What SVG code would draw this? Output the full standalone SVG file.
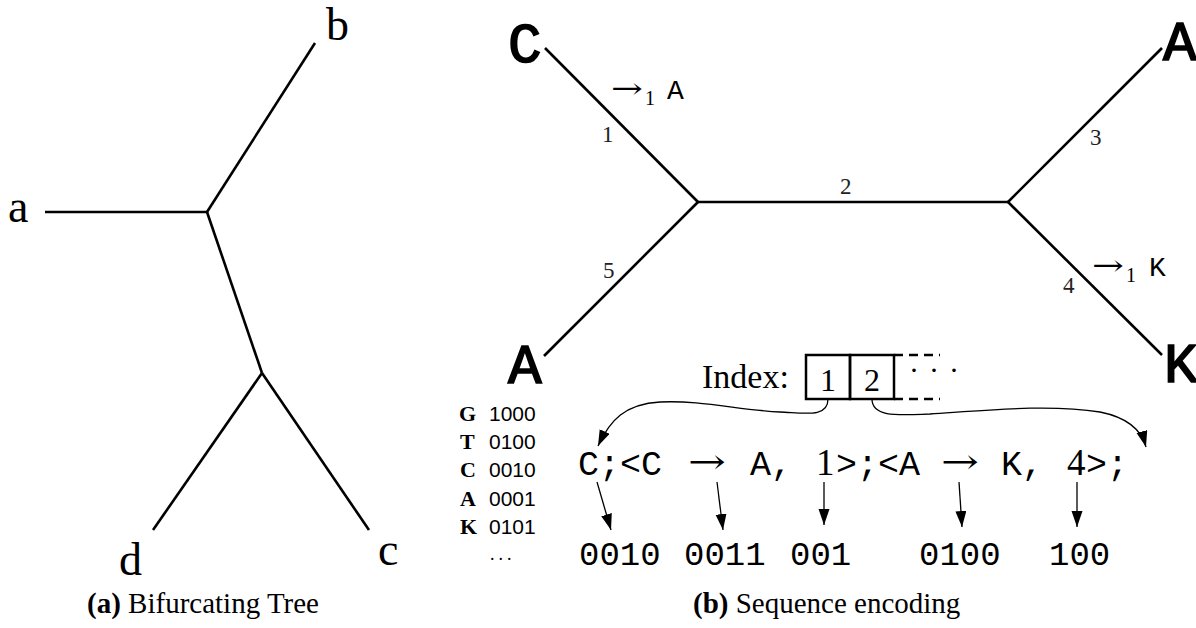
<svg xmlns="http://www.w3.org/2000/svg" width="1196" height="628" viewBox="0 0 1196 628">
<style>
.edge{stroke:#000;stroke-width:2.6;fill:none;stroke-linecap:butt}
.thin{stroke:#000;stroke-width:1.3;fill:none}
.leaf{font-family:"Liberation Serif","DejaVu Serif",serif;font-size:46px;fill:#000}
.big{font-family:"Liberation Mono","DejaVu Sans Mono",monospace;font-size:56px;fill:#000;stroke:#000;stroke-width:1.6}
.el{font-family:"Liberation Serif","DejaVu Serif",serif;font-size:23px;fill:#222}
.mono{font-family:"Liberation Mono","DejaVu Sans Mono",monospace;fill:#000}
.serif{font-family:"Liberation Serif","DejaVu Serif",serif;fill:#000}
.arr{font-family:"DejaVu Serif","DejaVu Sans",serif;fill:#000}
.cap{font-family:"Liberation Serif","DejaVu Serif",serif;font-size:29px;fill:#000}
.leg{font-family:"Liberation Sans","DejaVu Sans",sans-serif;font-size:21px;fill:#000}
.legb{font-family:"Liberation Serif","DejaVu Serif",serif;font-size:22px;font-weight:bold;fill:#000}
</style>
<defs>
<marker id="ah" markerUnits="userSpaceOnUse" markerWidth="18" markerHeight="12" refX="16" refY="5.5" orient="auto">
<path d="M0,0 L16,5.5 L0,11 z" fill="#000"/>
</marker>
</defs>

<!-- (a) Bifurcating tree -->
<g id="tree-a">
<g id="a-edges">
<line class="edge" x1="45" y1="212" x2="207" y2="212"/>
<line class="edge" x1="207" y1="212" x2="315" y2="43"/>
<line class="edge" x1="207" y1="212" x2="262" y2="373"/>
<line class="edge" x1="262" y1="373" x2="153" y2="530"/>
<line class="edge" x1="262" y1="373" x2="369" y2="530"/>
</g>
<g id="leaf-a"><text class="leaf" x="8" y="222">a</text></g>
<g id="leaf-b"><text class="leaf" x="326" y="40">b</text></g>
<g id="leaf-d"><text class="leaf" x="119" y="575">d</text></g>
<g id="leaf-c"><text class="leaf" x="378" y="565">c</text></g>
<text class="cap" x="87" y="613"><tspan font-weight="bold">(a)</tspan> Bifurcating Tree</text>
</g>

<!-- (b) Sequence encoding tree -->
<g id="tree-b">
<g id="b-edges">
<line class="edge" x1="545" y1="48" x2="698" y2="202"/>
<line class="edge" x1="544" y1="356" x2="698" y2="202"/>
<line class="edge" x1="698" y1="202" x2="1008" y2="202"/>
<line class="edge" x1="1008" y1="202" x2="1162" y2="48"/>
<line class="edge" x1="1008" y1="202" x2="1162" y2="355"/>
</g>
<g id="node-C"><text class="big" x="508" y="62">C</text></g>
<g id="node-A-bl"><text class="big" x="508" y="383">A</text></g>
<g id="node-A-tr"><text class="big" x="1163" y="60">A</text></g>
<g id="node-K"><text class="big" x="1164" y="382">K</text></g>
<g id="edge-labels">
<text class="el" x="602" y="142">1</text>
<text class="el" x="840" y="194">2</text>
<text class="el" x="1090" y="145">3</text>
<text class="el" x="1063" y="293">4</text>
<text class="el" x="603" y="278">5</text>
</g>
<g id="mut1">
<text class="arr" x="611" y="98" font-size="28" textLength="32" lengthAdjust="spacingAndGlyphs">→</text>
<text class="serif" x="645" y="105" font-size="20">1</text>
<text class="mono" x="667" y="99" font-size="28">A</text>
</g>
<g id="mut2">
<text class="arr" x="1092" y="275" font-size="28" textLength="32" lengthAdjust="spacingAndGlyphs">→</text>
<text class="serif" x="1126" y="282" font-size="20">1</text>
<text class="mono" x="1149" y="276" font-size="28">K</text>
</g>
</g>

<!-- Index -->
<g id="index">
<text class="serif" x="702" y="388" font-size="34">Index:</text>
<rect x="806" y="355" width="44" height="44" fill="none" stroke="#000" stroke-width="2.5"/>
<rect x="850" y="355" width="44" height="44" fill="none" stroke="#000" stroke-width="2.5"/>
<text class="serif" x="828" y="391" font-size="32" text-anchor="middle">1</text>
<text class="serif" x="872" y="391" font-size="32" text-anchor="middle">2</text>
<line x1="894" y1="355" x2="940" y2="355" stroke="#000" stroke-width="2.5" stroke-dasharray="9,6"/>
<line x1="894" y1="399" x2="940" y2="399" stroke="#000" stroke-width="2.5" stroke-dasharray="9,6"/>
<text class="serif" x="909" y="380" font-size="30" letter-spacing="10">···</text>
</g>

<!-- Legend -->
<g id="legend">
<text x="459" y="421"><tspan class="legb">G</tspan><tspan class="leg" x="489">1000</tspan></text>
<text x="460" y="449"><tspan class="legb">T</tspan><tspan class="leg" x="489">0100</tspan></text>
<text x="460" y="477"><tspan class="legb">C</tspan><tspan class="leg" x="489">0010</tspan></text>
<text x="460" y="506"><tspan class="legb">A</tspan><tspan class="leg" x="489">0001</tspan></text>
<text x="460" y="534"><tspan class="legb">K</tspan><tspan class="leg" x="489">0101</tspan></text>
<text class="serif" x="490" y="560" font-size="18" letter-spacing="4">...</text>
</g>

<!-- Sequence -->
<g id="sequence">
<text class="mono" x="578" y="475" font-size="35">C;&lt;C</text>
<text class="arr" x="688" y="473" font-size="34" textLength="38" lengthAdjust="spacingAndGlyphs">→</text>
<text class="mono" x="750" y="475" font-size="35">A,</text>
<text class="serif" x="816" y="475" font-size="37">1</text>
<text class="mono" x="836" y="475" font-size="35">&gt;;&lt;A</text>
<text class="arr" x="941" y="473" font-size="34" textLength="38" lengthAdjust="spacingAndGlyphs">→</text>
<text class="mono" x="1001" y="475" font-size="35">K,</text>
<text class="serif" x="1067" y="475" font-size="37">4</text>
<text class="mono" x="1086" y="475" font-size="35">&gt;;</text>
</g>

<!-- Codes -->
<g id="codes">
<text class="mono" x="579" y="565" font-size="34">0010</text>
<text class="mono" x="684" y="565" font-size="34">0011</text>
<text class="mono" x="790" y="565" font-size="34">001</text>
<text class="mono" x="919" y="565" font-size="34">0100</text>
<text class="mono" x="1049" y="565" font-size="34">100</text>
</g>

<g id="connectors">
<path class="thin" d="M828,399 C828,418 805,413 780,412 C740,410 700,400 660,402 C625,404 610,420 598,446" marker-end="url(#ah)"/>
<path class="thin" d="M872,399 C872,418 900,415 930,414 C990,410 1050,404 1100,412 C1130,418 1142,432 1146,447" marker-end="url(#ah)"/>
<line class="thin" x1="597" y1="482" x2="611" y2="530" marker-end="url(#ah)"/>
<line class="thin" x1="717" y1="482" x2="723" y2="530" marker-end="url(#ah)"/>
<line class="thin" x1="824" y1="482" x2="824" y2="525" marker-end="url(#ah)"/>
<line class="thin" x1="959" y1="482" x2="962" y2="527" marker-end="url(#ah)"/>
<line class="thin" x1="1077" y1="482" x2="1077" y2="527" marker-end="url(#ah)"/>
</g>

<text class="cap" x="693" y="613"><tspan font-weight="bold">(b)</tspan> Sequence encoding</text>
</svg>
